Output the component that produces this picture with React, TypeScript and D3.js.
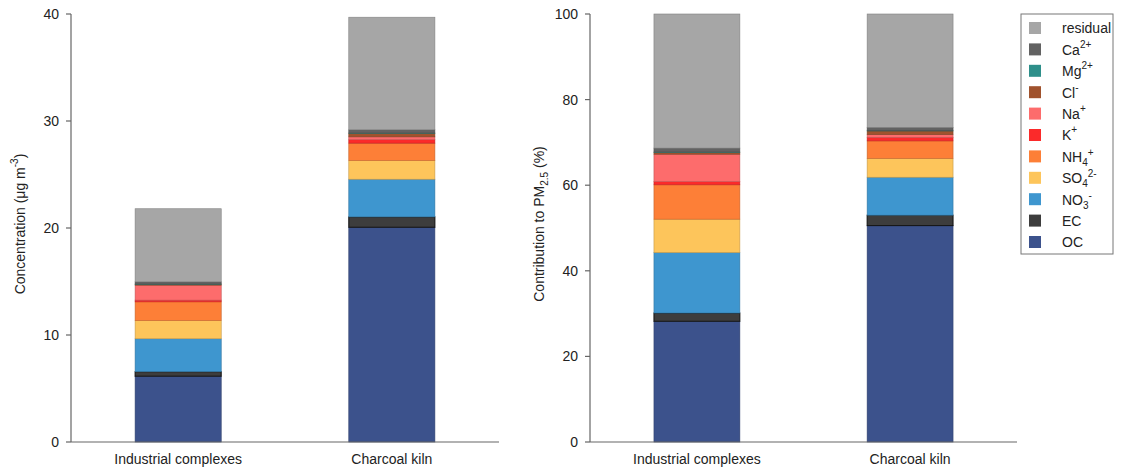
import * as d3 from 'd3';

const W = 1121;
const H = 469;

// categories and species (bottom to top)
const sites = ['Industrial complexes', 'Charcoal kiln'];
const species = ['OC', 'EC', 'NO3', 'SO4', 'NH4', 'K', 'Na', 'Cl', 'Mg', 'Ca', 'residual'];
const colors = ['#3c528c', '#3d3d3d', '#3e96cf', '#fdc55b', '#fd7f37', '#fb2a2a', '#fd6c6c', '#a0522d', '#2e8f8a', '#626262', '#a6a6a6'];

// concentrations in ug m-3
const industrial = [6.15, 0.42, 3.08, 1.7, 1.75, 0.16, 1.4, 0.08, 0.03, 0.2, 6.83];
const charcoal = [20.07, 0.97, 3.52, 1.75, 1.62, 0.32, 0.27, 0.33, 0.03, 0.3, 10.52];

const concTicks = [0, 10, 20, 30, 40];
const pctTicks = [0, 20, 40, 60, 80, 100];

const font = '"Liberation Sans", Arial, sans-serif';
const axisColor = '#666';
const textColor = '#222';

type Row = { site: string; [k: string]: number | string };

function makeRows(asPercent: boolean): Row[] {
  return [industrial, charcoal].map((vals, i) => {
    const total = d3.sum(vals);
    const row: Row = { site: sites[i] };
    species.forEach((s, j) => {
      row[s] = asPercent ? (vals[j] / total) * 100 : vals[j];
    });
    return row;
  });
}

function Panel({ x0, x1, max, ticks, asPercent, label }: {
  x0: number; x1: number; max: number; ticks: number[]; asPercent: boolean; label: any;
}) {
  const yTop = 14;
  const yBot = 442;
  const x = d3.scaleBand<string>().domain(sites).range([x0, x1]).paddingInner(0.597).paddingOuter(0.3);
  const y = d3.scaleLinear().domain([0, max]).range([yBot, yTop]);
  const rows = makeRows(asPercent);
  const series = d3.stack<Row>().keys(species).value((d, k) => d[k] as number)(rows);

  return (
    <g>
      {series.map((s, i) => (
        <g key={s.key}>
          {s.map((d) => {
            const c = d3.color(colors[i])!.darker(0.7).toString();
            return (
              <rect
                key={d.data.site}
                x={x(d.data.site)}
                width={x.bandwidth()}
                y={y(d[1])}
                height={Math.max(0, y(d[0]) - y(d[1]))}
                fill={colors[i]}
                stroke={i === 1 ? '#111' : c}
                strokeWidth={i === 1 ? 1 : 0.6}
              />
            );
          })}
        </g>
      ))}
      {/* y axis */}
      <line x1={x0} x2={x0} y1={yTop} y2={yBot} stroke={axisColor} strokeWidth={1.2} />
      {ticks.map((t) => (
        <g key={t}>
          <line x1={x0 - 5} x2={x0} y1={y(t)} y2={y(t)} stroke={axisColor} strokeWidth={1.2} />
          <text x={x0 - 12} y={y(t)} dy="0.35em" textAnchor="end" fontSize={14} fill={textColor}>{t}</text>
        </g>
      ))}
      {/* x axis */}
      <line x1={x0} x2={x1} y1={yBot} y2={yBot} stroke={axisColor} strokeWidth={1.2} />
      {sites.map((s) => (
        <text key={s} x={x(s)! + x.bandwidth() / 2} y={464} textAnchor="middle" fontSize={14} fill={textColor}>{s}</text>
      ))}
      <text transform={`translate(${x0 - 46},${(yTop + yBot) / 2 - 4}) rotate(-90)`} textAnchor="middle" fontSize={14} fill={textColor}>
        {label}
      </text>
    </g>
  );
}

function LegendLabel({ name }: { name: string }) {
  const sup = (t: string) => <tspan fontSize={10} dy={-7}>{t}</tspan>;
  const sub = (t: string) => <tspan fontSize={10} dy={4}>{t}</tspan>;
  switch (name) {
    case 'Ca': return <>Ca{sup('2+')}</>;
    case 'Mg': return <>Mg{sup('2+')}</>;
    case 'Cl': return <>Cl{sup('-')}</>;
    case 'Na': return <>Na{sup('+')}</>;
    case 'K': return <>K{sup('+')}</>;
    case 'NH4': return <>NH{sub('4')}<tspan fontSize={10} dy={-10}>+</tspan></>;
    case 'SO4': return <>SO{sub('4')}<tspan fontSize={10} dy={-10}>2-</tspan></>;
    case 'NO3': return <>NO{sub('3')}<tspan fontSize={10} dy={-10}>-</tspan></>;
    default: return <>{name}</>;
  }
}

export default function App() {
  const legendOrder = species.map((s, i) => ({ s, c: colors[i] })).reverse();
  const ly = d3.scalePoint<string>().domain(legendOrder.map((d) => d.s)).range([28, 242]);
  return (
    <svg width={W} height={H} style={{ position: 'absolute', left: 0, top: 0 }} fontFamily={font}>
      <rect width={W} height={H} fill="#fff" />
      <Panel
        x0={71}
        x1={499}
        max={40}
        ticks={concTicks}
        asPercent={false}
        label={<>Concentration (μg m<tspan fontSize={10} dy={-7}>-3</tspan><tspan dy={7}>)</tspan></>}
      />
      <Panel
        x0={590}
        x1={1017}
        max={100}
        ticks={pctTicks}
        asPercent={true}
        label={<>Contribution to PM<tspan fontSize={10} dy={4}>2.5</tspan><tspan dy={-4}> (%)</tspan></>}
      />
      <g>
        <rect x={1021} y={14} width={92} height={240} fill="#fff" stroke="#777" strokeWidth={1} />
        {legendOrder.map((d) => (
          <g key={d.s} transform={`translate(0,${ly(d.s)})`}>
            <rect x={1029} y={-6} width={12} height={12} fill={d.c} />
            <text x={1062} y={0} dy="0.38em" fontSize={14} fill={textColor}>
              <LegendLabel name={d.s} />
            </text>
          </g>
        ))}
      </g>
    </svg>
  );
}
